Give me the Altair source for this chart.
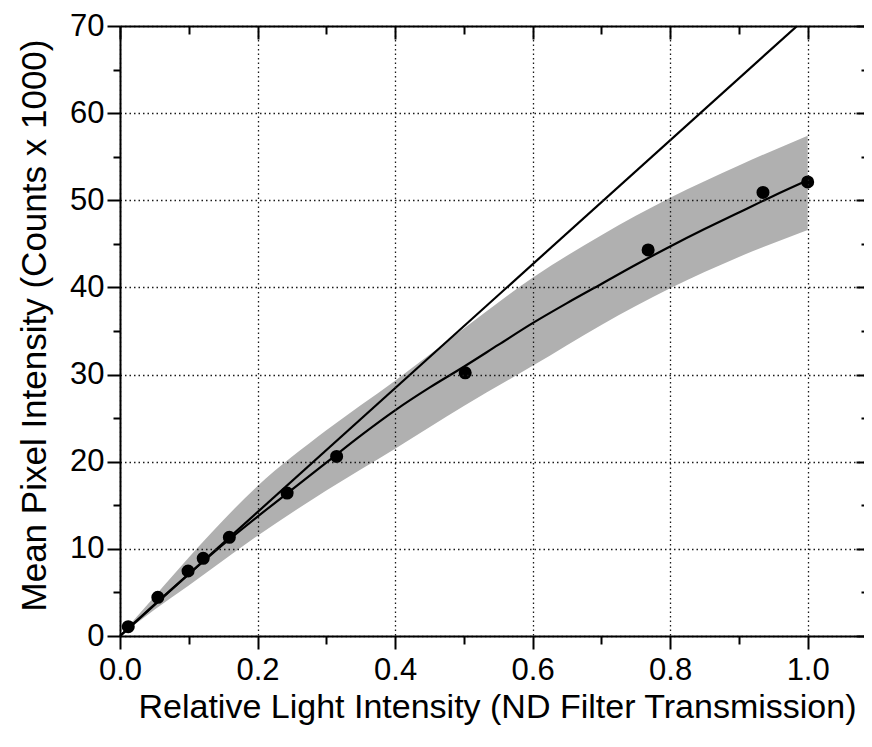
import altair as alt
import pandas as pd

# ---- data ----
pts_x = [0.012, 0.055, 0.099, 0.121, 0.159, 0.243, 0.315, 0.502, 0.768, 0.935, 1.0]
pts_y = [1.07, 4.44, 7.46, 8.92, 11.33, 16.4, 20.6, 30.2, 44.3, 50.9, 52.1]

fit_x = [0.0, 0.05, 0.1, 0.15, 0.2, 0.25, 0.3, 0.35, 0.4, 0.45, 0.5,
         0.55, 0.6, 0.65, 0.7, 0.75, 0.8, 0.85, 0.9, 0.95, 1.0]
fit_y = [0.0, 3.6, 7.1, 10.5, 13.7, 16.8, 19.9, 23.0, 25.9, 28.5, 30.9,
         33.4, 35.9, 38.2, 40.4, 42.6, 44.7, 46.7, 48.6, 50.5, 52.3]

band_x = [0.0, 0.05, 0.1, 0.2, 0.3, 0.4, 0.5, 0.6, 0.7, 0.8, 0.9, 1.0]
band_lo = [0.0, 3.0, 5.8, 11.5, 16.7, 21.5, 26.4, 31.0, 35.7, 39.9, 43.5, 46.6]
band_hi = [0.0, 4.5, 9.0, 17.2, 23.6, 29.3, 35.3, 41.1, 46.0, 50.3, 54.0, 57.4]

lin_x = [0.0, 1.0]
lin_y = [0.0, 71.1]

x_major = [0.0, 0.2, 0.4, 0.6, 0.8, 1.0]
x_minor = [0.1, 0.3, 0.5, 0.7, 0.9]
y_major = [0, 10, 20, 30, 40, 50, 60, 70]
y_minor = [5, 15, 25, 35, 45, 55, 65]

x_title = "Relative Light Intensity (ND Filter Transmission)"
y_title = "Mean Pixel Intensity (Counts x 1000)"

# ---- layout ----
W, H = 744, 610
XMAX = 1.0819
FONT = "Liberation Sans"

pts_df = pd.DataFrame({"x": pts_x, "y": pts_y})
fit_df = pd.DataFrame({"x": fit_x, "y": fit_y})
band_df = pd.DataFrame({"x": band_x, "lo": band_lo, "hi": band_hi})
lin_df = pd.DataFrame({"x": lin_x, "y": lin_y})

xs = alt.Scale(domain=[0, XMAX], nice=False, zero=False)
ys = alt.Scale(domain=[0, 70], nice=False, zero=False)

common = dict(tickColor="black", tickWidth=2, title="", zindex=1)

ax_x_major = alt.Axis(orient="bottom", values=x_major, format=".1f", tickSize=13,
                      labelFont=FONT, labelFontSize=31, labelColor="black",
                      labelPadding=6, labelFlush=False, labelOverlap=False,
                      grid=True, gridDash=[1.5, 3], gridColor="#1a1a1a", gridWidth=1.3,
                      tickColor="black", tickWidth=2, domainColor="black", domainWidth=2,
                      title=x_title, titleFont=FONT, titleFontSize=34,
                      titleFontWeight="normal", titleColor="black",
                      titleX=377, titleY=81, titleAlign="center",
                      titleBaseline="alphabetic", zindex=1)
ax_x_minor = alt.Axis(orient="bottom", values=x_minor, tickSize=8, labels=False,
                      domain=False, grid=False, **common)
ax_x_top_major = alt.Axis(orient="bottom", offset=-H, values=x_major, tickSize=13,
                          labels=False, domain=True, domainColor="black", domainWidth=2,
                          grid=False, **common)
ax_x_top_minor = alt.Axis(orient="bottom", offset=-H, values=x_minor, tickSize=8,
                          labels=False, domain=False, grid=False, **common)

ax_y_major = alt.Axis(orient="left", values=y_major, format="d", tickSize=13,
                      labelFont=FONT, labelFontSize=31, labelColor="black",
                      labelPadding=3, labelFlush=False, labelOverlap=False,
                      grid=True, gridDash=[1.5, 3], gridColor="#1a1a1a", gridWidth=1.3,
                      tickColor="black", tickWidth=2, domainColor="black", domainWidth=2,
                      title=y_title, titleFont=FONT, titleFontSize=35,
                      titleFontWeight="normal", titleColor="black",
                      titleX=-75, titleY=299, titleAngle=270, titleAlign="center",
                      titleBaseline="alphabetic", zindex=1)
ax_y_minor = alt.Axis(orient="left", values=y_minor, tickSize=7, labels=False,
                      domain=False, grid=False, **common)
ax_y_right_major = alt.Axis(orient="left", offset=-W, values=y_major, tickSize=8,
                            labels=False, domain=False, grid=False, **common)
ax_y_right_minor = alt.Axis(orient="left", offset=-W, values=y_minor, tickSize=3,
                            labels=False, domain=False, grid=False, **common)

band = alt.Chart(band_df).mark_area(color="#b0b0b0", opacity=1, interpolate="monotone").encode(
    x=alt.X("x:Q", scale=xs, axis=ax_x_major),
    y=alt.Y("lo:Q", scale=ys, axis=ax_y_major),
    y2="hi:Q",
)
fit = alt.Chart(fit_df).mark_line(color="black", strokeWidth=2.2, interpolate="monotone").encode(
    x=alt.X("x:Q", scale=xs, axis=ax_x_minor),
    y=alt.Y("y:Q", scale=ys, axis=ax_y_minor),
)
lin = alt.Chart(lin_df).mark_line(color="black", strokeWidth=2.2, clip=True).encode(
    x=alt.X("x:Q", scale=xs, axis=ax_x_top_major),
    y=alt.Y("y:Q", scale=ys, axis=ax_y_right_major),
)
pts = alt.Chart(pts_df).mark_circle(color="black", size=170, opacity=1).encode(
    x=alt.X("x:Q", scale=xs, axis=ax_x_top_minor),
    y=alt.Y("y:Q", scale=ys, axis=ax_y_right_minor),
)

chart = (
    alt.layer(band, fit, lin, pts)
    .resolve_axis(x="independent", y="independent")
    .properties(width=W, height=H, autosize=alt.AutoSizeParams(type="none"),
                padding={"left": 112, "top": 18, "right": 0, "bottom": 100})
    .configure_view(strokeWidth=0)
    .configure(background="white")
)

chart.save("out.html", embed_options={"renderer": "svg", "actions": False})
